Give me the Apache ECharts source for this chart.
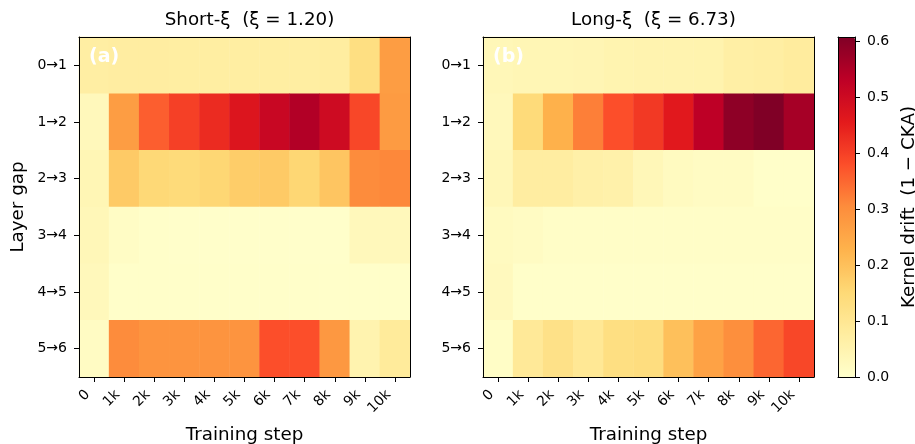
<!DOCTYPE html>
<html>
<head>
<meta charset="utf-8">
<script src="https://cdn.jsdelivr.net/npm/echarts@6/dist/echarts.min.js"></script>
<style>
  html, body { margin: 0; padding: 0; background: #fff; }
  #chart { width: 915px; height: 444px; }
</style>
</head>
<body>
<div id="chart"></div>
<script>
// Training steps (columns) and layer gaps (rows)
const steps = ['0', '1k', '2k', '3k', '4k', '5k', '6k', '7k', '8k', '9k', '10k'];
const layerGaps = ['0→1', '1→2', '2→3', '3→4', '4→5', '5→6'];

// Kernel drift (1 − CKA), one row per layer gap, short correlation length
const shortXiDrift = [
  [0.070, 0.075, 0.075, 0.072, 0.072, 0.072, 0.072, 0.072, 0.076, 0.130, 0.270],
  [0.030, 0.270, 0.360, 0.400, 0.430, 0.470, 0.510, 0.545, 0.500, 0.390, 0.275],
  [0.040, 0.180, 0.150, 0.145, 0.155, 0.175, 0.180, 0.155, 0.190, 0.305, 0.310],
  [0.035, 0.012, 0.005, 0.003, 0.003, 0.003, 0.003, 0.003, 0.003, 0.030, 0.030],
  [0.030, 0.006, 0.006, 0.006, 0.006, 0.006, 0.006, 0.006, 0.006, 0.006, 0.006],
  [0.015, 0.305, 0.290, 0.290, 0.290, 0.290, 0.380, 0.380, 0.280, 0.050, 0.085]
];

// Kernel drift (1 − CKA), long correlation length
const longXiDrift = [
  [0.035, 0.040, 0.040, 0.042, 0.048, 0.050, 0.050, 0.052, 0.068, 0.070, 0.080],
  [0.030, 0.145, 0.230, 0.320, 0.380, 0.410, 0.460, 0.530, 0.590, 0.607, 0.560],
  [0.035, 0.075, 0.075, 0.062, 0.058, 0.035, 0.020, 0.015, 0.015, 0.006, 0.006],
  [0.020, 0.015, 0.008, 0.008, 0.008, 0.008, 0.008, 0.008, 0.008, 0.008, 0.008],
  [0.025, 0.005, 0.005, 0.005, 0.005, 0.005, 0.005, 0.005, 0.005, 0.005, 0.005],
  [0.010, 0.090, 0.120, 0.095, 0.130, 0.135, 0.200, 0.260, 0.300, 0.350, 0.390]
];

const panelTitles = ['Short-ξ  (ξ = 1.20)', 'Long-ξ  (ξ = 6.73)'];
const panelTags = ['(a)', '(b)'];
const colorbarTicks = [0.0, 0.1, 0.2, 0.3, 0.4, 0.5, 0.6];
const driftMax = 0.607;

// YlOrRd colour ramp
const ylOrRd = ['#ffffcc', '#ffeda0', '#fed976', '#feb24c', '#fd8d3c',
                '#fc4e2a', '#e31a1c', '#bd0026', '#800026'];

const FONT = 'DejaVu Sans';
const INK = '#000';
const TICK_FS = 14;
const LABEL_FS = 18.3;

function toCells(matrix) {
  const cells = [];
  matrix.forEach((row, r) => row.forEach((v, c) => cells.push([c, r, v])));
  return cells;
}

const grids = [
  { left: 79, top: 37, width: 331, height: 340, outerBoundsMode: 'none', containLabel: false },
  { left: 483, top: 37, width: 331, height: 340, outerBoundsMode: 'none', containLabel: false },
  { left: 838, top: 37, width: 17, height: 340, outerBoundsMode: 'none', containLabel: false }
];

const frameEdge = (g, position, max) => ({
  type: 'value', gridIndex: g, position: position, min: 0, max: max, z: 10,
  axisLine: { show: true, onZero: false, lineStyle: { color: INK, width: 1 } },
  axisTick: { show: false }, axisLabel: { show: false }, splitLine: { show: false }
});

const xAxes = [];
const yAxes = [];
[0, 1].forEach(g => {
  xAxes.push({
    type: 'category', gridIndex: g, data: steps, position: 'bottom', z: 10,
    axisLine: { show: true, lineStyle: { color: INK, width: 1 } },
    axisTick: { show: true, alignWithLabel: true, length: 5, lineStyle: { color: INK } },
    axisLabel: { rotate: 45, color: INK, fontFamily: FONT, fontSize: TICK_FS, margin: 9,
                 padding: [0, 9, 0, 0] },
    splitLine: { show: false },
    name: 'Training step', nameLocation: 'middle', nameGap: 49,
    nameTextStyle: { color: INK, fontFamily: FONT, fontSize: LABEL_FS }
  });
  xAxes.push(frameEdge(g, 'top', 1));
  yAxes.push({
    type: 'category', gridIndex: g, data: layerGaps, inverse: true, position: 'left', z: 10,
    axisLine: { show: true, lineStyle: { color: INK, width: 1 } },
    axisTick: { show: true, alignWithLabel: true, length: 5, lineStyle: { color: INK } },
    axisLabel: { color: INK, fontFamily: FONT, fontSize: TICK_FS, margin: 12 },
    splitLine: { show: false },
    name: g === 0 ? 'Layer gap' : '', nameLocation: 'middle', nameGap: 52,
    nameTextStyle: { color: INK, fontFamily: FONT, fontSize: LABEL_FS }
  });
  yAxes.push(frameEdge(g, 'right', 1));
});

// colour bar frame and scale
xAxes.push(frameEdge(2, 'bottom', 1));
xAxes.push(frameEdge(2, 'top', 1));
yAxes.push(frameEdge(2, 'left', driftMax));
yAxes.push({
  type: 'value', gridIndex: 2, position: 'right', min: 0, max: driftMax, interval: 0.1, z: 10,
  axisLine: { show: true, onZero: false, lineStyle: { color: INK, width: 1 } },
  axisTick: { show: true, length: 5, lineStyle: { color: INK }, customValues: colorbarTicks },
  axisLabel: { color: INK, fontFamily: FONT, fontSize: TICK_FS, margin: 12,
               customValues: colorbarTicks, formatter: v => v.toFixed(1) },
  splitLine: { show: false },
  name: 'Kernel drift  (1 − CKA)', nameLocation: 'middle', nameGap: 45, nameRotate: 90,
  nameTextStyle: { color: INK, fontFamily: FONT, fontSize: LABEL_FS }
});

const series = [shortXiDrift, longXiDrift].map((m, g) => ({
  type: 'heatmap',
  xAxisIndex: g * 2,
  yAxisIndex: g * 2,
  data: toCells(m),
  itemStyle: { borderWidth: 0 },
  emphasis: { disabled: true },
  progressive: 0,
  z: 2
}));

const chart = echarts.init(document.getElementById('chart'), null, { renderer: 'canvas' });
chart.setOption({
  animation: false,
  backgroundColor: '#fff',
  textStyle: { fontFamily: FONT },
  title: panelTitles.map((t, g) => ({
    text: t,
    left: grids[g].left + grids[g].width / 2,
    top: 6,
    textAlign: 'center',
    textStyle: { color: INK, fontFamily: FONT, fontSize: LABEL_FS, fontWeight: 'normal' }
  })),
  grid: grids,
  xAxis: xAxes,
  yAxis: yAxes,
  visualMap: {
    type: 'continuous',
    min: 0, max: driftMax,
    seriesIndex: [0, 1],
    orient: 'vertical',
    left: 838, top: 37,
    itemWidth: 17, itemHeight: 340,
    padding: 0,
    text: null,
    calculable: false,
    hoverLink: false,
    inRange: { color: ylOrRd },
    z: 5
  },
  graphic: panelTags.map((t, g) => ({
    type: 'text',
    left: grids[g].left + 10,
    top: 48,
    z: 100,
    style: { text: t, fill: '#fff', font: 'bold 19px "DejaVu Sans"' }
  })),
  series: series
});
</script>
</body>
</html>
